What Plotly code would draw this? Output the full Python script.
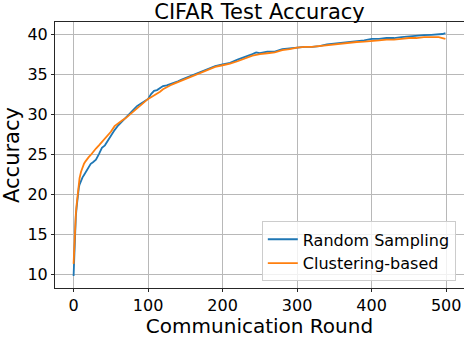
import plotly.graph_objects as go

rounds = [0, 1, 2, 3, 4, 5, 6, 7, 8, 10, 12, 14, 16, 18, 20, 23, 26, 30, 34, 38,
          42, 46, 50, 55, 60, 65, 70, 75, 80, 85, 90, 95, 100, 104, 108, 112, 116,
          120, 125, 130, 135, 140, 145, 150, 160, 170, 180, 190, 200, 210, 220,
          230, 240, 245, 250, 260, 270, 280, 290, 300, 310, 320, 330, 340, 350,
          360, 370, 380, 390, 400, 410, 420, 430, 440, 450, 460, 470, 480, 490,
          495, 499]

random_acc = [9.8, 13.0, 15.6, 17.2, 18.3, 19.3, 20.1, 20.8, 21.2, 21.8, 22.1, 22.4,
              22.7, 23.0, 23.3, 23.8, 24.0, 24.3, 25.0, 25.8, 26.1, 26.7, 27.3, 28.0,
              28.6, 29.1, 29.5, 30.0, 30.6, 31.0, 31.3, 31.6, 31.9, 32.5, 32.9, 33.0,
              33.3, 33.5, 33.6, 33.8, 34.0, 34.1, 34.3, 34.5, 34.9, 35.3, 35.6, 36.0,
              36.2, 36.4, 36.8, 37.2, 37.5, 37.7, 37.6, 37.8, 37.8, 38.1, 38.2, 38.3,
              38.4, 38.4, 38.5, 38.7, 38.8, 38.9, 39.0, 39.1, 39.2, 39.4, 39.4, 39.5,
              39.5, 39.6, 39.7, 39.8, 39.85, 39.9, 39.95, 40.0, 40.1]

cluster_acc = [11.3, 14.0, 16.0, 17.5, 18.6, 19.6, 20.6, 21.4, 22.0, 22.8, 23.4, 23.8,
               24.1, 24.4, 24.6, 24.9, 25.3, 25.7, 26.1, 26.5, 27.0, 27.4, 27.8, 28.5,
               28.9, 29.2, 29.5, 29.9, 30.4, 30.8, 31.2, 31.6, 31.9, 32.1, 32.3, 32.6,
               32.8, 33.1, 33.4, 33.6, 33.8, 34.0, 34.2, 34.4, 34.8, 35.2, 35.5, 35.9,
               36.1, 36.3, 36.6, 37.0, 37.3, 37.4, 37.5, 37.6, 37.7, 38.0, 38.1, 38.3,
               38.4, 38.4, 38.5, 38.6, 38.7, 38.8, 38.95, 39.0, 39.05, 39.1, 39.2, 39.3,
               39.3, 39.4, 39.5, 39.5, 39.6, 39.6, 39.6, 39.5, 39.4]

fig = go.Figure()
fig.add_trace(go.Scatter(x=rounds, y=random_acc, mode='lines', name='Random Sampling',
                         line=dict(color='#1f77b4', width=1.8)))
fig.add_trace(go.Scatter(x=rounds, y=cluster_acc, mode='lines', name='Clustering-based',
                         line=dict(color='#ff7f0e', width=1.8)))

axis_style = dict(showline=True, mirror=True, linecolor='#262626', linewidth=1,
                  ticks='outside', ticklen=3, tickcolor='#262626', automargin=False,
                  showgrid=True, gridcolor='#b8b8b8', gridwidth=1, zeroline=False,
                  tickfont=dict(size=16, color='black'))

fig.update_xaxes(range=[-24.95, 523.95], tickvals=[0, 100, 200, 300, 400, 500],
                 title=dict(text='Communication Round', font=dict(size=20, color='black')),
                 **axis_style)
fig.update_yaxes(range=[8.29, 41.5], tickvals=[10, 15, 20, 25, 30, 35, 40],
                 title=dict(text='Accuracy', font=dict(size=21, color='black'),
                            standoff=3),
                 **axis_style)

fig.update_layout(
    width=464, height=338,
    margin=dict(l=55, r=0, t=22, b=50),
    paper_bgcolor='white', plot_bgcolor='white',
    font=dict(family='DejaVu Sans', color='black'),
    title=dict(text='CIFAR Test Accuracy', xref='paper', x=0.5, xanchor='center',
               y=0.966, yanchor='middle', font=dict(size=21, color='black')),
    legend=dict(x=0.98, y=0.025, xanchor='right', yanchor='bottom',
                bgcolor='rgba(255,255,255,0.8)', bordercolor='#cccccc', borderwidth=1,
                font=dict(size=16, color='black'), tracegroupgap=0),
    showlegend=True,
)

# page has a default body margin; drop it so the figure sits at the window corner
fig.write_html("out.html", config={'displayModeBar': False},
               post_script="document.body.style.margin='0';")
